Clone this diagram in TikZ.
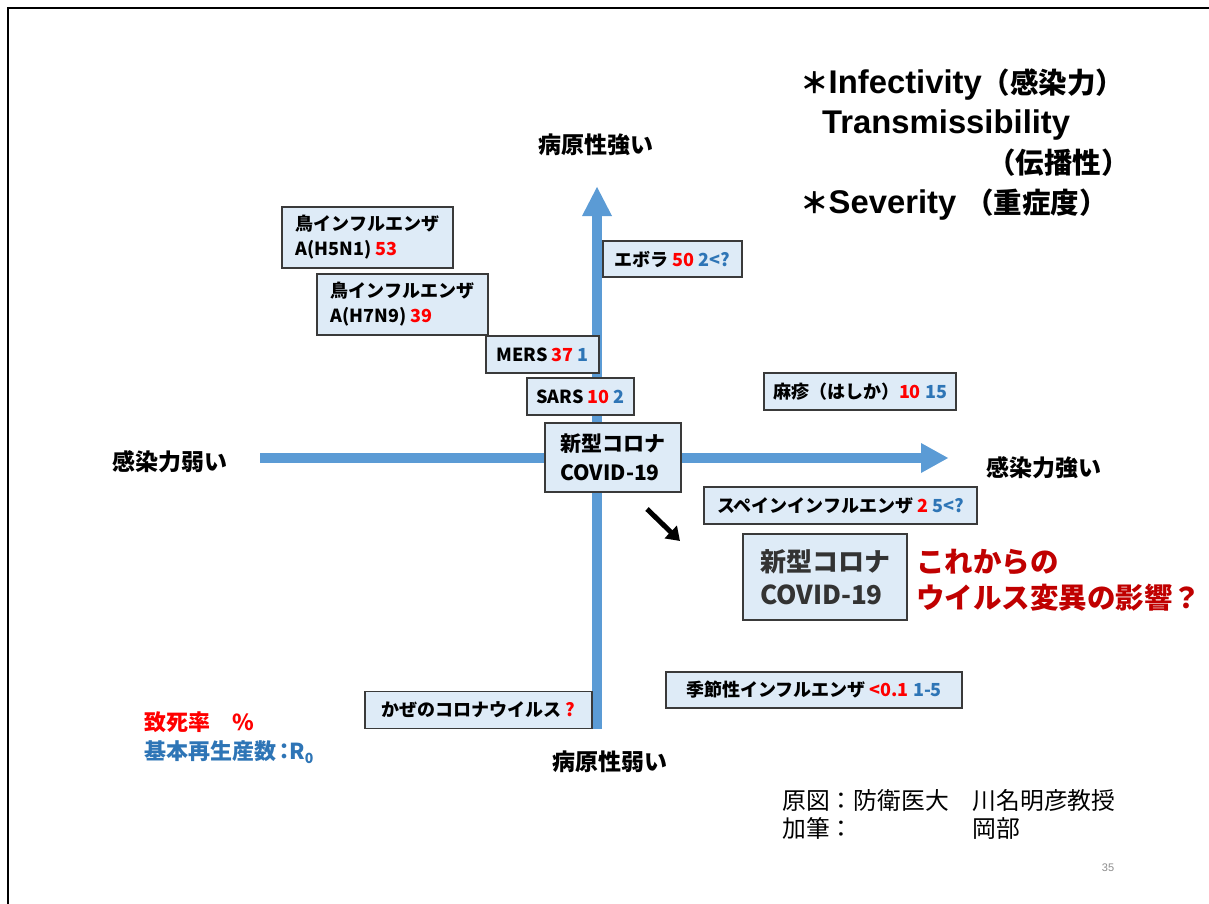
\documentclass[tikz,border=0pt]{standalone}
\usepackage{fontspec}
\usetikzlibrary{arrows.meta}
\newfontfamily\jpf{Noto Sans CJK JP}
\newfontfamily\arl{Liberation Sans}
\definecolor{axisblue}{HTML}{5B9BD5}
\definecolor{boxfill}{HTML}{DEEBF7}
\definecolor{boxdraw}{HTML}{3A3A3A}
\definecolor{nred}{HTML}{FF0000}
\definecolor{nblue}{HTML}{2E75B6}
\definecolor{dred}{HTML}{C00000}
\definecolor{pgnum}{HTML}{8C8C8C}
\newcommand{\fsz}[2]{\fontsize{#1}{#2}\selectfont}
\newcommand{\rd}[1]{\textcolor{nred}{#1}}
\newcommand{\bl}[1]{\textcolor{nblue}{#1}}
\newcommand{\trl}{\arl\bfseries\fsz{32.8}{40}}
\newcommand{\trj}{\jpf\bfseries\fsz{28.5}{40}}
\begin{document}
\begin{tikzpicture}[x=1pt,y=-1pt,
  vbox/.style={draw=boxdraw, line width=1.5pt, fill=boxfill, inner sep=0pt,
               font=\jpf\bfseries\fsz{18}{25}, align=center},
  mlbox/.style={vbox, align=left},
  axisline/.style={draw=axisblue, line width=10pt},
  axishead/.style={fill=axisblue},
  axislabel/.style={inner sep=0pt, font=\jpf\bfseries\fsz{23}{28}},
  plain/.style={inner sep=0pt}]
\useasboundingbox (0,0) rectangle (1209,904);
\fill[white] (0,0) rectangle (1209,904);
% slide frame
\draw[line width=2pt] (8,904) -- (8,8) -- (1209,8);

% axes
\coordinate (vbot) at (597,729);
\coordinate (vbase) at (597,216);
\coordinate (vtip) at (597,187);
\coordinate (hleft) at (260,458);
\coordinate (hbase) at (921,458);
\coordinate (htip) at (948,458);
\draw[axisline] (vbot) -- (vbase);
\fill[axishead] ([xshift=-15pt]vbase) -- (vtip) -- ([xshift=15pt]vbase) -- cycle;
\draw[axisline] (hleft) -- (hbase);
\fill[axishead] ([yshift=15pt]hbase) -- (htip) -- ([yshift=-15pt]hbase) -- cycle;

% axis labels
\node[axislabel] (ytop) at (596,145) {病原性強い};
\node[axislabel] (ybot) at (610,762) {病原性弱い};
\node[axislabel] (xleft) at (170,462) {感染力弱い};
\node[axislabel] (xright) at (1044,468) {感染力強い};

% boxes
\node[mlbox, minimum width=171pt, minimum height=61pt] (h5n1) at (367.5,237.5) {鳥インフルエンザ\\A(H5N1) \rd{53}};
\node[mlbox, minimum width=171pt, minimum height=61pt] (h7n9) at (402.5,304.5) {鳥インフルエンザ\\A(H7N9) \rd{39}};
\node[vbox, minimum width=113pt, minimum height=37pt] (mers) at (542.5,354.5) {MERS \rd{37} \bl{1}};
\node[vbox, minimum width=107pt, minimum height=37pt] (sars) at (580.5,396.5) {SARS \rd{10} \bl{2}};
\node[vbox, minimum width=139pt, minimum height=36pt] (ebola) at (672.5,259) {エボラ \rd{50} \bl{2<?}};
\node[vbox, minimum width=192pt, minimum height=37pt] (measles) at (860,391.5) {麻疹（はしか）\rd{10} \bl{15}};
\node[mlbox, minimum width=136pt, minimum height=69pt, font=\jpf\bfseries\fsz{21}{29}] (covid) at (613,457.5) {新型コロナ\\COVID-19};
\node[vbox, minimum width=273pt, minimum height=37pt] (spanish) at (840.5,505.5) {スペインインフルエンザ \rd{2} \bl{5<?}};
\node[mlbox, minimum width=164pt, minimum height=86pt, line width=2pt, text=black!80, font=\jpf\bfseries\fsz{26}{33}] (covidb) at (825,577) {新型コロナ\\COVID-19};
\node[vbox, minimum width=296pt, minimum height=36pt] (seasonal) at (814,690) {季節性インフルエンザ \rd{<0.1} \bl{1-5}};
\node[vbox, minimum width=227pt, minimum height=37pt] (cold) at (478.5,710) {かぜのコロナウイルス \rd{?}};

% small arrow
\coordinate (sa) at (647,509);
\coordinate (sb) at (680,541);
\draw[line width=5pt, -{Triangle[length=13pt,width=17pt]}] (sa) -- (sb);

% red question
\node[plain, anchor=west, align=left, text=dred, font=\jpf\bfseries\fsz{28.5}{36}] (question) at (916,580) {これからの\\ウイルス変異の影響？};

% top-right notes
\node[plain, anchor=west] (inf) at (800,85) {\trj ＊\trl Infectivity\trj （感染力）};
\node[plain, anchor=west] (trans) at (822,125) {\trl Transmissibility};
\node[plain, anchor=east] (denpa) at (1130,163) {\trj （伝播性）};
\node[plain, anchor=west] (sev) at (800,205) {\trj ＊\trl Severity \trj （重症度）};

% legend
\node[plain, anchor=west, text=nred, font=\jpf\bfseries\fsz{22}{26}] (leg1) at (144,722) {致死率　\%};
\node[plain, anchor=west, text=nblue, font=\jpf\bfseries\fsz{22}{26}] (leg2) at (144,752) {基本再生産数\hspace{-3pt}：\hspace{-6pt}R\raisebox{-0.35ex}{\fsz{14}{14}0}};

% credit
\node[plain, anchor=west, align=left, font=\jpf\fsz{23.8}{28}] (credit) at (782,814) {原図：防衛医大　川名明彦教授\\加筆：　　　　　岡部};

% page number
\node[plain, text=pgnum, font=\arl\fsz{11}{11}] (page) at (1108,868) {35};
\end{tikzpicture}
\end{document}
